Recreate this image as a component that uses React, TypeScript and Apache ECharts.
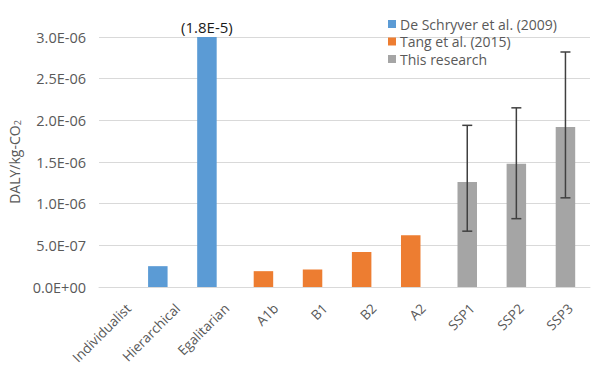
import React, { useEffect, useRef } from "react";
import * as echarts from "echarts";

// Categories along the x axis
const categories = [
  "Individualist",
  "Hierarchical",
  "Egalitarian",
  "A1b",
  "B1",
  "B2",
  "A2",
  "SSP1",
  "SSP2",
  "SSP3",
];

// DALY per kg-CO2 by source
const deSchryver: (number | null)[] = [null, 2.5e-7, 1.8e-5, null, null, null, null, null, null, null];
const tang: (number | null)[] = [null, null, null, 1.9e-7, 2.1e-7, 4.2e-7, 6.2e-7, null, null, null];
const thisResearch: (number | null)[] = [null, null, null, null, null, null, null, 1.26e-6, 1.48e-6, 1.92e-6];

// Uncertainty ranges for this research
const errorCats = ["SSP1", "SSP2", "SSP3"];
const errorLow = [6.7e-7, 8.2e-7, 1.07e-6];
const errorHigh = [1.94e-6, 2.15e-6, 2.82e-6];

const seriesNames = ["De Schryver et al. (2009)", "Tang et al. (2015)", "This research"];
const colors = ["#5B9BD5", "#ED7D31", "#A5A5A5"];

const Y_MAX = 3e-6;
const Y_STEP = 5e-7;
const FONT = "'Open Sans', 'Noto Sans', sans-serif";

// Excel-style scientific notation, e.g. 2.5E-07
function sci(v: number): string {
  if (v === 0) return "0.0E+00";
  const [m, e] = v.toExponential(1).split("e");
  const n = parseInt(e, 10);
  const sign = n < 0 ? "-" : "+";
  return `${m}E${sign}${String(Math.abs(n)).padStart(2, "0")}`;
}

function shortSci(v: number): string {
  const [m, e] = v.toExponential(1).split("e");
  return `${m}E${parseInt(e, 10)}`;
}

export default function App() {
  const ref = useRef<HTMLDivElement>(null);

  useEffect(() => {
    document.body.style.margin = "0";
    if (!ref.current) return;
    const chart = echarts.init(ref.current, undefined, { renderer: "svg" });

    const barCommon = {
      type: "bar" as const,
      barWidth: 19.5,
      barGap: "-62%",
    };

    const makeBar = (name: string, values: (number | null)[], color: string) => ({
      ...barCommon,
      name,
      itemStyle: { color },
      data: values.map((v) =>
        v != null && v > Y_MAX
          ? {
              value: v,
              label: {
                show: true,
                position: "top",
                distance: 3,
                formatter: (p: any) => `(${shortSci(p.value)})`,
                color: "#1a1a1a",
                fontSize: 15,
                fontFamily: FONT,
              },
            }
          : v
      ),
    });

    const errorData = errorCats.map((c, i) => [c, errorLow[i], errorHigh[i]]);

    chart.setOption({
      animation: false,
      textStyle: { fontFamily: FONT },
      grid: { left: 99, right: 5, top: 37, bottom: 78, outerBoundsMode: "none" },
      legend: {
        data: seriesNames,
        orient: "vertical",
        left: 383,
        top: 12,
        itemWidth: 8,
        itemHeight: 8,
        itemGap: 3.5,
        icon: "rect",
        textStyle: {
          color: "#595959",
          fontSize: 14,
          lineHeight: 14,
          fontFamily: FONT,
          padding: [0, 0, 0, -1],
        },
      },
      xAxis: {
        type: "category",
        data: categories,
        axisTick: { show: false },
        axisLine: { lineStyle: { color: "#D9D9D9", width: 1 } },
        axisLabel: {
          rotate: 45,
          interval: 0,
          color: "#595959",
          fontSize: 13.5,
          fontFamily: FONT,
          margin: 14,
          verticalAlign: "top",
        },
      },
      yAxis: {
        type: "value",
        min: 0,
        max: Y_MAX,
        interval: Y_STEP,
        name: "DALY/kg-CO{sub|2}",
        nameLocation: "middle",
        nameGap: 64,
        nameTextStyle: {
          color: "#595959",
          fontSize: 14,
          fontFamily: FONT,
          rich: {
            sub: { fontSize: 9, verticalAlign: "bottom", padding: [6, 0, 0, 0], color: "#595959", fontFamily: FONT },
          },
        },
        axisLabel: {
          color: "#595959",
          fontSize: 14.5,
          fontFamily: FONT,
          margin: 13,
          formatter: (v: number) => sci(v),
        },
        splitLine: { lineStyle: { color: "#D9D9D9", width: 1 } },
        axisLine: { show: false },
        axisTick: { show: false },
      },
      series: [
        makeBar(seriesNames[0], deSchryver, colors[0]),
        makeBar(seriesNames[1], tang, colors[1]),
        makeBar(seriesNames[2], thisResearch, colors[2]),
        // two empty bar slots so the grouped bars sit left of each category centre
        { ...barCommon, name: "_pad1", data: [] },
        { ...barCommon, name: "_pad2", data: [] },
        {
          type: "custom",
          name: "range",
          z: 5,
          encode: { x: 0, y: [1, 2] },
          data: errorData,
          renderItem: (params: any, api: any) => {
            const x = api.value(0);
            const lo = api.coord([x, api.value(1)]);
            const hi = api.coord([x, api.value(2)]);
            const half = 5;
            const style = { stroke: "#404040", lineWidth: 1.5 };
            return {
              type: "group",
              children: [
                { type: "line", shape: { x1: lo[0], y1: lo[1], x2: hi[0], y2: hi[1] }, style },
                { type: "line", shape: { x1: hi[0] - half, y1: hi[1], x2: hi[0] + half, y2: hi[1] }, style },
                { type: "line", shape: { x1: lo[0] - half, y1: lo[1], x2: lo[0] + half, y2: lo[1] }, style },
              ],
            };
          },
        },
      ],
    });

    return () => chart.dispose();
  }, []);

  return <div ref={ref} style={{ width: 595, height: 365 }} />;
}
